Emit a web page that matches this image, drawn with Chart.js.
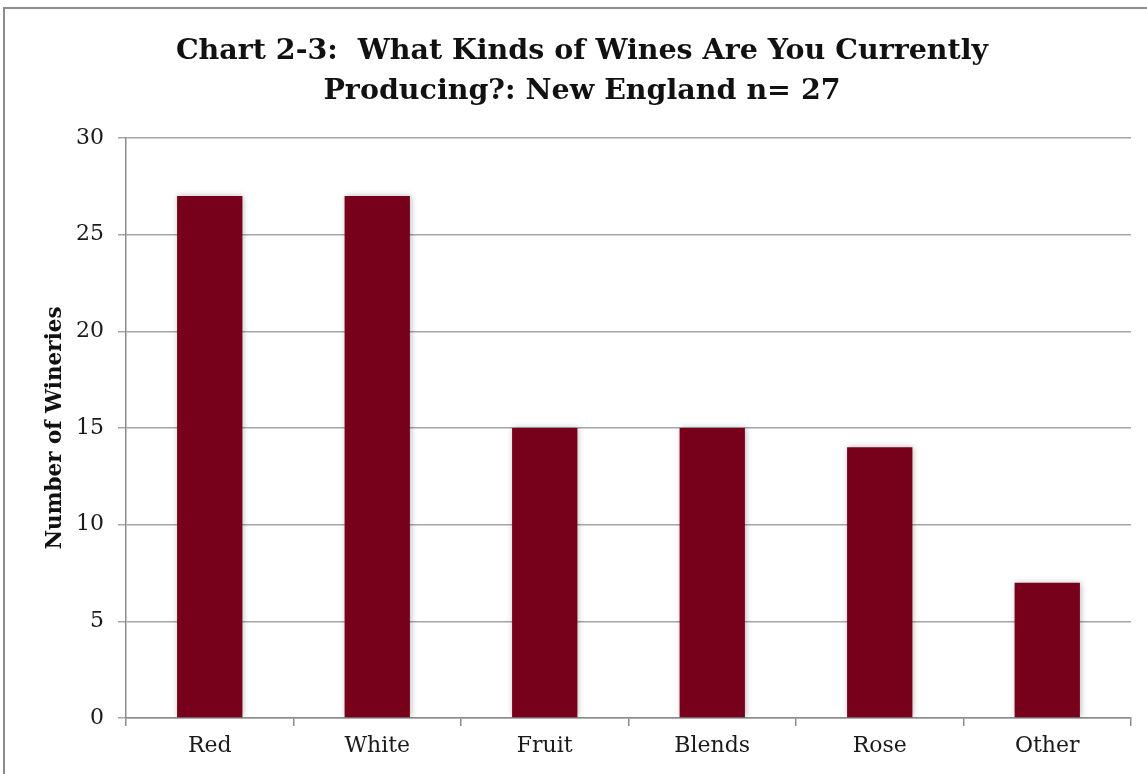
<!DOCTYPE html>
<html>
<head>
<meta charset="utf-8">
<title>Chart 2-3</title>
<script src="https://cdn.jsdelivr.net/npm/chart.js@4/dist/chart.umd.min.js"></script>
<style>
  html, body { margin: 0; padding: 0; background: #fff; overflow: hidden; }
  #wrap { position: relative; width: 1147px; height: 774px; }
  #frame {
    position: absolute; left: 3px; top: 7px; width: 1200px; height: 800px;
    border-top: 2px solid #8c8c8c; border-left: 2px solid #8c8c8c;
    pointer-events: none;
  }
  canvas { position: absolute; left: 0; top: 0; }
</style>
</head>
<body>
<div id="wrap">
  <canvas id="c" width="1147" height="774"></canvas>
  <div id="frame"></div>
</div>
<script>
// Wine types produced by New England wineries (n = 27)
const categories = ['Red', 'White', 'Fruit', 'Blends', 'Rose', 'Other'];
const wineries = [27, 27, 15, 15, 14, 7];
const yMin = 0;
const yMax = 30;
const yStep = 5;
const titleLines = ['Chart 2-3:  What Kinds of Wines Are You Currently', 'Producing?: New England n= 27'];
const yAxisTitle = 'Number of Wineries';

// soft glow behind the bars
const barShadow = {
  id: 'barShadow',
  beforeDatasetsDraw(chart) {
    const ctx = chart.ctx;
    ctx.save();
    ctx.shadowColor = 'rgba(0,0,0,0.28)';
    ctx.shadowBlur = 6;
    ctx.shadowOffsetX = 1;
    ctx.shadowOffsetY = 0;
  },
  afterDatasetsDraw(chart) {
    chart.ctx.restore();
  }
};

new Chart(document.getElementById('c'), {
  type: 'bar',
  data: {
    labels: categories,
    datasets: [{
      data: wineries,
      backgroundColor: '#77001a',
      borderWidth: 0,
      barPercentage: 0.39,
      categoryPercentage: 1.0
    }]
  },
  plugins: [barShadow],
  options: {
    responsive: false,
    animation: false,
    devicePixelRatio: 1,
    layout: { padding: { top: 0, left: 33, right: 16, bottom: 0 } },
    plugins: {
      legend: { display: false },
      tooltip: { enabled: false },
      title: {
        display: true,
        text: titleLines,
        color: '#111',
        font: { family: '"DejaVu Serif", serif', size: 28.5, weight: 'bold', lineHeight: '40px' },
        padding: { top: 32, bottom: 26 }
      }
    },
    scales: {
      x: {
        grid: {
          offset: true,
          drawOnChartArea: false,
          drawTicks: true,
          tickLength: 8,
          color: '#8c8c8c',
          lineWidth: 1.5
        },
        border: { display: true, color: '#8c8c8c', width: 1.5 },
        ticks: {
          color: '#1a1a1a',
          padding: 7,
          font: { family: '"DejaVu Serif", serif', size: 22 }
        },
        afterFit(scale) { scale.height = 56; }
      },
      y: {
        min: yMin,
        max: yMax,
        ticks: {
          stepSize: yStep,
          color: '#1a1a1a',
          padding: 14,
          font: { family: '"DejaVu Serif", serif', size: 22 }
        },
        grid: {
          color: '#a6a6a6',
          lineWidth: 1.5,
          drawTicks: true,
          tickLength: 8
        },
        border: { display: true, color: '#8c8c8c', width: 1.5 },
        title: {
          display: true,
          text: yAxisTitle,
          color: '#111',
          font: { family: '"DejaVu Serif", serif', size: 21.5, weight: 'bold', lineHeight: 1.2 },
          padding: { top: 10, bottom: 0 }
        },
        afterFit(scale) { scale.width = 93; }
      }
    }
  }
});
</script>
</body>
</html>
